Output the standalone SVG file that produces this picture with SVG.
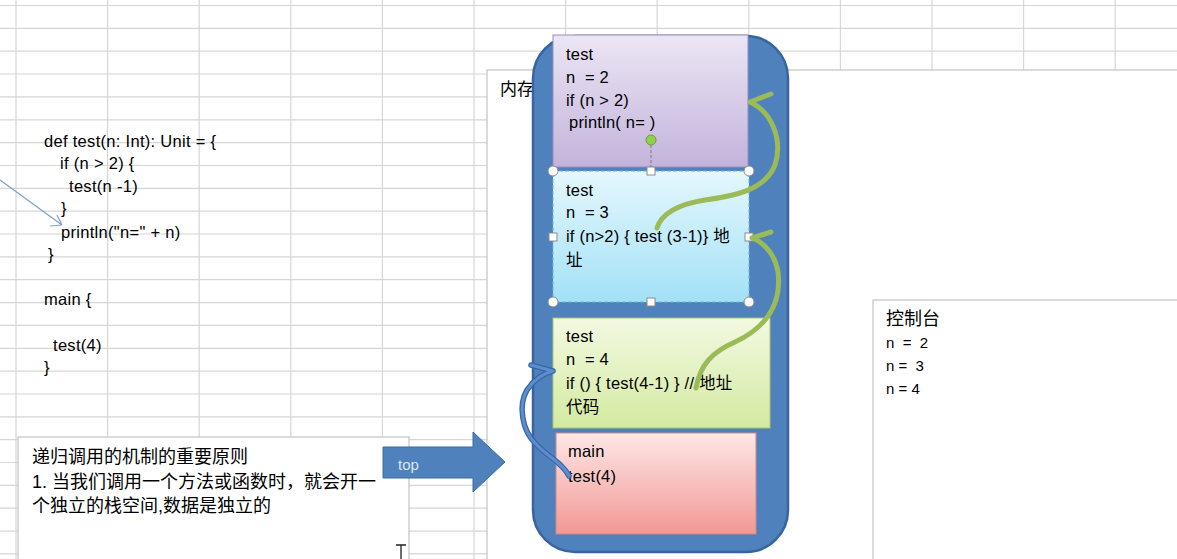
<svg xmlns="http://www.w3.org/2000/svg" width="1177" height="559" viewBox="0 0 1177 559">
<style>
.t{font-family:"Liberation Sans","Noto Sans CJK SC",sans-serif;fill:#000;white-space:pre}
.code{font-size:16.5px;letter-spacing:0.3px}
.box{font-size:16.5px;letter-spacing:0.2px}
.grid{stroke:#d6d6d6;stroke-width:1.2;fill:none}
.panel{fill:#fff;stroke:#c3c3c3;stroke-width:1.2}
.green{fill:none;stroke:#9bbb59;stroke-width:5;stroke-linecap:round}
.handle{fill:#fff;stroke:#8c8c8c;stroke-width:1}
</style>
<defs>
<linearGradient id="gPurple" x1="0" y1="0" x2="0" y2="1"><stop offset="0" stop-color="#ebe6f4"/><stop offset="1" stop-color="#c3b3db"/></linearGradient>
<linearGradient id="gBlue" x1="0" y1="0" x2="0" y2="1"><stop offset="0" stop-color="#e4f7fd"/><stop offset="1" stop-color="#a3e1f6"/></linearGradient>
<linearGradient id="gGreen" x1="0" y1="0" x2="0" y2="1"><stop offset="0" stop-color="#f3f9e2"/><stop offset="1" stop-color="#d3eaa0"/></linearGradient>
<linearGradient id="gPink" x1="0" y1="0" x2="0" y2="1"><stop offset="0" stop-color="#fde7e6"/><stop offset="1" stop-color="#f29896"/></linearGradient>
</defs>
<rect width="1177" height="559" fill="#fff"/>
<g id="grid">
<path class="grid" d="M16,0V559M107.6,0V559M199.2,0V559M290.8,0V559M382.4,0V559M474,0V559M565.6,0V559M657.2,0V559M748.8,0V559M840.4,0V559M932,0V559M1023.6,0V559M1115.2,0V559
M0,5.5H1177M0,28.4H1177M0,51.2H1177M0,74H1177M0,96.9H1177M0,119.8H1177M0,142.6H1177M0,165.5H1177M0,188.3H1177M0,211.2H1177M0,234H1177M0,256.9H1177M0,279.7H1177M0,302.6H1177M0,325.4H1177M0,348.3H1177M0,371.1H1177M0,394H1177M0,416.8H1177M0,439.7H1177M0,462.5H1177M0,485.4H1177M0,508.2H1177M0,531.1H1177M0,553.9H1177"/>
</g>
<g id="code">
<text class="t code" x="44" y="147">def test(n: Int): Unit = {</text>
<text class="t code" x="60" y="169">if (n &gt; 2) {</text>
<text class="t code" x="69" y="192">test(n -1)</text>
<text class="t code" x="61" y="214">}</text>
<text class="t code" x="61" y="238">println("n=" + n)</text>
<text class="t code" x="48" y="260">}</text>
<text class="t code" x="44" y="305">main {</text>
<text class="t code" x="53" y="351">test(4)</text>
<text class="t code" x="44" y="373">}</text>
</g>
<g id="memory">
<rect class="panel" x="487" y="70" width="700" height="500"/>
<text class="t" x="500" y="95" font-size="17">内存</text>
</g>
<g id="console">
<rect class="panel" x="873" y="300" width="320" height="270"/>
<text class="t" x="886" y="325" font-size="18">控制台</text>
<text class="t" x="886" y="348" font-size="15">n  =  2</text>
<text class="t" x="886" y="371" font-size="15">n =  3</text>
<text class="t" x="886" y="394" font-size="15">n = 4</text>
</g>
<g id="principle">
<rect class="panel" x="18" y="437" width="391" height="140"/>
<text class="t" x="32" y="463" font-size="18">递归调用的机制的重要原则</text>
<text class="t" x="32" y="488" font-size="18">1. 当我们调用一个方法或函数时，就会开一</text>
<text class="t" x="32" y="512" font-size="18">个独立的栈空间,数据是独立的</text>
<path d="M396,545H406M401,545V559" stroke="#222" stroke-width="1.3" fill="none"/>
</g>
<g id="top-arrow">
<polygon points="383,447 473,447 473,432 505,462 473,492 473,478 383,478" fill="#4f81bd" stroke="#3d6ba3" stroke-width="1"/>
<text x="398" y="470" font-family="Liberation Sans, sans-serif" font-size="15" fill="#dce6f2">top</text>
</g>
<g id="stack">
<rect x="533" y="36" width="255" height="516" rx="42" ry="42" fill="#4f81bd" stroke="#3a64a0" stroke-width="2.5"/>
</g>
<g id="frame-main">
<rect x="556" y="433" width="200" height="101" fill="url(#gPink)" stroke="#d08885" stroke-width="1"/>
<text class="t box" x="568" y="457">main</text>
<text class="t box" x="568" y="482">test(4)</text>
</g>
<g id="frame-n4">
<rect x="553" y="318" width="217" height="110" fill="url(#gGreen)" stroke="#a9c56e" stroke-width="1"/>
<text class="t box" x="566" y="342">test</text>
<text class="t box" x="566" y="365">n  = 4</text>
<text class="t box" x="566" y="389">if () { test(4-1) } // 地址</text>
<text class="t box" x="566" y="413">代码</text>
</g>
<g id="frame-n3">
<rect x="553" y="171" width="196" height="131" fill="url(#gBlue)" stroke="#6fb6d6" stroke-width="1" stroke-dasharray="4 2"/>
<text class="t box" x="566" y="196">test</text>
<text class="t box" x="566" y="218">n  = 3</text>
<text class="t box" x="566" y="242">if (n&gt;2) { test (3-1)} 地</text>
<text class="t box" x="566" y="266">址</text>
</g>
<g id="frame-n2">
<rect x="553" y="35" width="195" height="132" fill="url(#gPurple)" stroke="#9d89c0" stroke-width="1"/>
<text class="t box" x="566" y="60">test</text>
<text class="t box" x="566" y="83">n  = 2</text>
<text class="t box" x="566" y="106">if (n &gt; 2)</text>
<text class="t box" x="569" y="128">println( n= )</text>
</g>
<g id="selection">
<line x1="651" y1="145" x2="651" y2="171" stroke="#7a7a7a" stroke-width="1" stroke-dasharray="3 2"/>
<circle cx="651" cy="140" r="5" fill="#8fd14f" stroke="#6b9e3a" stroke-width="1"/>
<circle class="handle" cx="553" cy="171" r="5"/>
<circle class="handle" cx="749" cy="171" r="5"/>
<circle class="handle" cx="553" cy="302" r="5"/>
<circle class="handle" cx="749" cy="302" r="5"/>
<rect class="handle" x="647" y="167" width="8" height="8"/>
<rect class="handle" x="647" y="298" width="8" height="8"/>
<rect class="handle" x="549" y="233" width="8" height="8"/>
<rect class="handle" x="745" y="233" width="8" height="8"/>
</g>
<g id="connectors">
<path d="M0,180L62,225M62,225L50,226M62,225L57,215" fill="none" stroke="#7f9dcb" stroke-width="1.2"/>
<path d="M657,228C662,212 680,204 705,200C735,196 765,190 775,165C783,140 772,112 750,102M750,102L771,94" class="green"/>
<path d="M696,388C700,365 712,352 735,342C765,328 782,305 778,272C775,255 765,243 752,238M752,238L771,232" class="green"/>
<path d="M569,476C562,462 545,455 535,443C522,430 518,405 527,390C535,378 545,373 553,371M553,371L531,365" fill="none" stroke="#3a66a0" stroke-width="5.5" stroke-linecap="round"/>
<path d="M569,476C562,462 545,455 535,443C522,430 518,405 527,390C535,378 545,373 553,371M553,371L531,365" fill="none" stroke="#5b8ed0" stroke-width="3" stroke-linecap="round"/>
</g>
</svg>
